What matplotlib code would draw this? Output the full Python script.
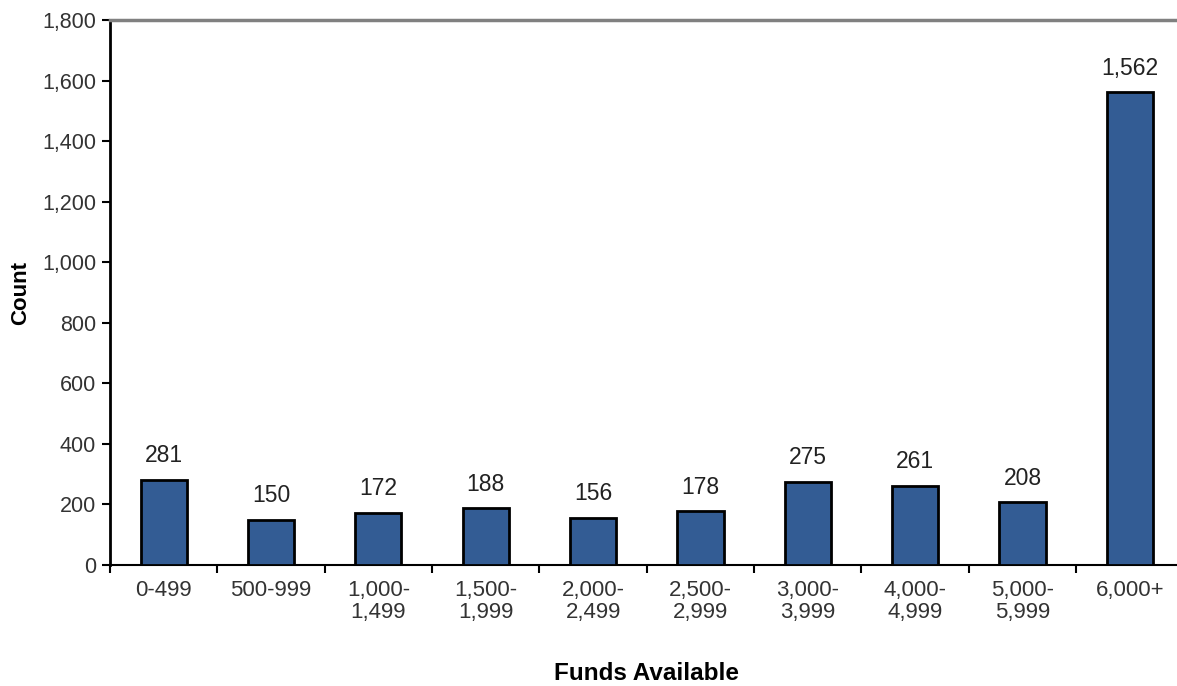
import matplotlib
matplotlib.use("Agg")
import matplotlib.pyplot as plt
import numpy as np

categories = ["0-499", "500-999", "1,000-\n1,499", "1,500-\n1,999", "2,000-\n2,499",
              "2,500-\n2,999", "3,000-\n3,999", "4,000-\n4,999", "5,000-\n5,999", "6,000+"]
counts = [281, 150, 172, 188, 156, 178, 275, 261, 208, 1562]
y_ticks = [0, 200, 400, 600, 800, 1000, 1200, 1400, 1600, 1800]

plt.rcParams['font.family'] = ['Liberation Sans', 'DejaVu Sans']

fig = plt.figure(figsize=(11.77, 6.86), dpi=100)
ax = fig.add_axes([0.0935, 0.1764, 0.912, 0.7944])

x = np.arange(len(categories))
bars = ax.bar(x, counts, width=0.43, color='#335C94', edgecolor='black', linewidth=2, zorder=3)

for xi, v in zip(x, counts):
    ax.annotate(f"{v:,}", (xi, v), xytext=(0, 9), textcoords='offset points',
                ha='center', va='bottom', fontsize=16.5, color='#222222')

ax.set_xlim(-0.5, len(categories) - 0.5)
ax.set_ylim(0, 1800)
ax.set_yticks(y_ticks)
ax.set_yticklabels([f"{t:,}" for t in y_ticks])

# ticks at the category boundaries, labels centred under the bars
ax.set_xticks(np.arange(len(categories) + 1) - 0.5)
ax.set_xticklabels([])
ax.set_xticks(x, minor=True)
ax.set_xticklabels(categories, minor=True, fontsize=16, color='#333333', linespacing=1.05)
ax.tick_params(axis='x', which='minor', length=0, pad=11)
ax.tick_params(axis='x', which='major', length=6, width=1.5, direction='out')
ax.tick_params(axis='y', length=6, width=1.5, labelsize=15.5, labelcolor='#333333', pad=4)

ax.spines['left'].set_linewidth(2)
ax.spines['bottom'].set_linewidth(1.5)
ax.spines['top'].set_color('#808080')
ax.spines['top'].set_linewidth(2.5)
ax.spines['right'].set_visible(False)

ax.set_ylabel("Count", fontsize=16, fontweight='bold', labelpad=8)
ax.set_xlabel("Funds Available", fontsize=17.5, fontweight='bold', labelpad=28)

fig.savefig("out.png", dpi=100)
